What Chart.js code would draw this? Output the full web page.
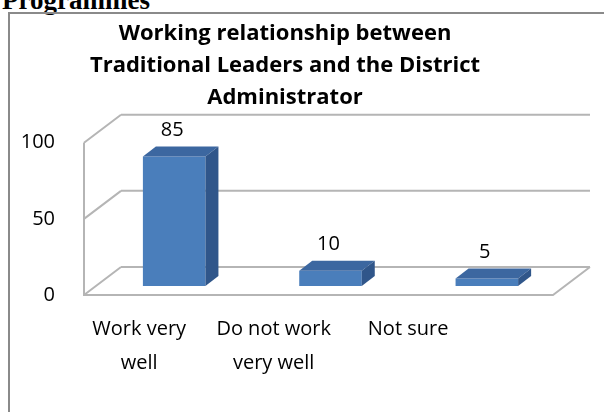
<!DOCTYPE html>
<html>
<head>
<meta charset="utf-8">
<script src="https://cdn.jsdelivr.net/npm/chart.js@4"></script>
<style>
  body { margin: 0; background: #fff; overflow: hidden; }
  #page { position: relative; width: 604px; height: 412px; overflow: hidden; }
  #heading {
    position: absolute; left: 2px; top: -15px; line-height: 1;
    font: bold 27px "Liberation Serif", serif; color: #000;
  }
  #frame {
    position: absolute; left: 8px; top: 12px; width: 700px; height: 500px;
    border: 2px solid #8a8a8a;
  }
  #chart { position: absolute; left: 0; top: 0; }
</style>
</head>
<body>
<div id="page">
  <div id="heading">Programmes</div>
  <div id="frame"></div>
  <canvas id="chart" width="604" height="412"></canvas>
</div>
<script>
const titleLines = ['Working relationship between', 'Traditional Leaders and the District', 'Administrator'];
const categories = [['Work very', 'well'], ['Do not work', 'very well'], ['Not sure']];
const values = [85, 10, 5];
const yTicks = [0, 50, 100];

// depth of the box walls, where the bars stand inside it, and how deep a bar is
const WALL = { dx: 37, dy: -28 };
const BAR_SHIFT = { dx: 12, dy: -9 };
const BAR_DEPTH = { dx: 13, dy: -10 };
const FONT = '"Open Sans", Lato, sans-serif';

const box3d = {
  id: 'box3d',
  beforeDatasetsDraw(chart) {
    const { ctx, chartArea: a, scales: { y } } = chart;
    ctx.save();
    ctx.strokeStyle = '#b5b5b5';
    ctx.lineWidth = 2;
    ctx.beginPath();
    yTicks.forEach(v => {
      const py = y.getPixelForValue(v);
      // back wall gridline
      ctx.moveTo(a.left + WALL.dx, py + WALL.dy);
      ctx.lineTo(a.right + WALL.dx, py + WALL.dy);
      // side wall gridline
      ctx.moveTo(a.left, py);
      ctx.lineTo(a.left + WALL.dx, py + WALL.dy);
    });
    // side wall front edge
    ctx.moveTo(a.left, y.getPixelForValue(100));
    ctx.lineTo(a.left, a.bottom);
    // floor
    ctx.lineTo(a.right, a.bottom);
    ctx.lineTo(a.right + WALL.dx, a.bottom + WALL.dy);
    ctx.stroke();
    ctx.restore();

    // bars stand a little back from the front edge
    ctx.save();
    ctx.translate(BAR_SHIFT.dx, BAR_SHIFT.dy);
  },
  afterDatasetsDraw(chart) {
    const { ctx, chartArea: a, scales: { x } } = chart;
    const meta = chart.getDatasetMeta(0);
    meta.data.forEach(bar => {
      const l = bar.x - bar.width / 2, r = bar.x + bar.width / 2;
      // top face
      ctx.fillStyle = '#3c67a0';
      ctx.beginPath();
      ctx.moveTo(l, bar.y);
      ctx.lineTo(r, bar.y);
      ctx.lineTo(r + BAR_DEPTH.dx, bar.y + BAR_DEPTH.dy);
      ctx.lineTo(l + BAR_DEPTH.dx, bar.y + BAR_DEPTH.dy);
      ctx.closePath();
      ctx.fill();
      // side face
      ctx.fillStyle = '#30568a';
      ctx.beginPath();
      ctx.moveTo(r, bar.y);
      ctx.lineTo(r + BAR_DEPTH.dx, bar.y + BAR_DEPTH.dy);
      ctx.lineTo(r + BAR_DEPTH.dx, bar.base + BAR_DEPTH.dy);
      ctx.lineTo(r, bar.base);
      ctx.closePath();
      ctx.fill();
    });
    ctx.restore();

    ctx.save();
    ctx.fillStyle = '#000';
    ctx.textAlign = 'center';
    ctx.textBaseline = 'middle';
    ctx.font = '20px ' + FONT;
    // value labels above the bars
    meta.data.forEach((bar, i) => {
      ctx.fillText(String(values[i]), bar.x + BAR_SHIFT.dx - 2, bar.y + BAR_SHIFT.dy - 26);
    });
    // category labels, pulled in toward the left like the floor perspective
    categories.forEach((lines, i) => {
      const cx = x.left + (x.getPixelForValue(i) - x.left) * 0.86 - 12;
      lines.forEach((t, j) => ctx.fillText(t, cx, a.bottom + 34 + j * 34));
    });
    ctx.restore();
  }
};

new Chart(document.getElementById('chart'), {
  type: 'bar',
  data: {
    labels: categories,
    datasets: [{
      data: values,
      backgroundColor: '#4a7ebb',
      borderWidth: 0,
      barPercentage: 0.4,
      categoryPercentage: 1
    }]
  },
  options: {
    responsive: false,
    animation: false,
    devicePixelRatio: 1,
    layout: { padding: { left: 17, right: 51, top: 0, bottom: 117 } },
    plugins: {
      legend: { display: false },
      tooltip: { enabled: false },
      title: {
        display: true,
        text: titleLines,
        color: '#000',
        font: { family: FONT, size: 22, weight: 'bold', lineHeight: 1.45 },
        padding: { top: 18, bottom: 29 }
      }
    },
    scales: {
      x: { display: false },
      y: {
        min: 0,
        max: 100,
        afterFit: s => { s.width = 67; },
        afterBuildTicks: s => { s.ticks = yTicks.map(v => ({ value: v })); },
        grid: { display: false, drawTicks: false },
        border: { display: false },
        ticks: { color: '#000', padding: 29, font: { family: FONT, size: 20 } }
      }
    }
  },
  plugins: [box3d]
});
</script>
</body>
</html>
